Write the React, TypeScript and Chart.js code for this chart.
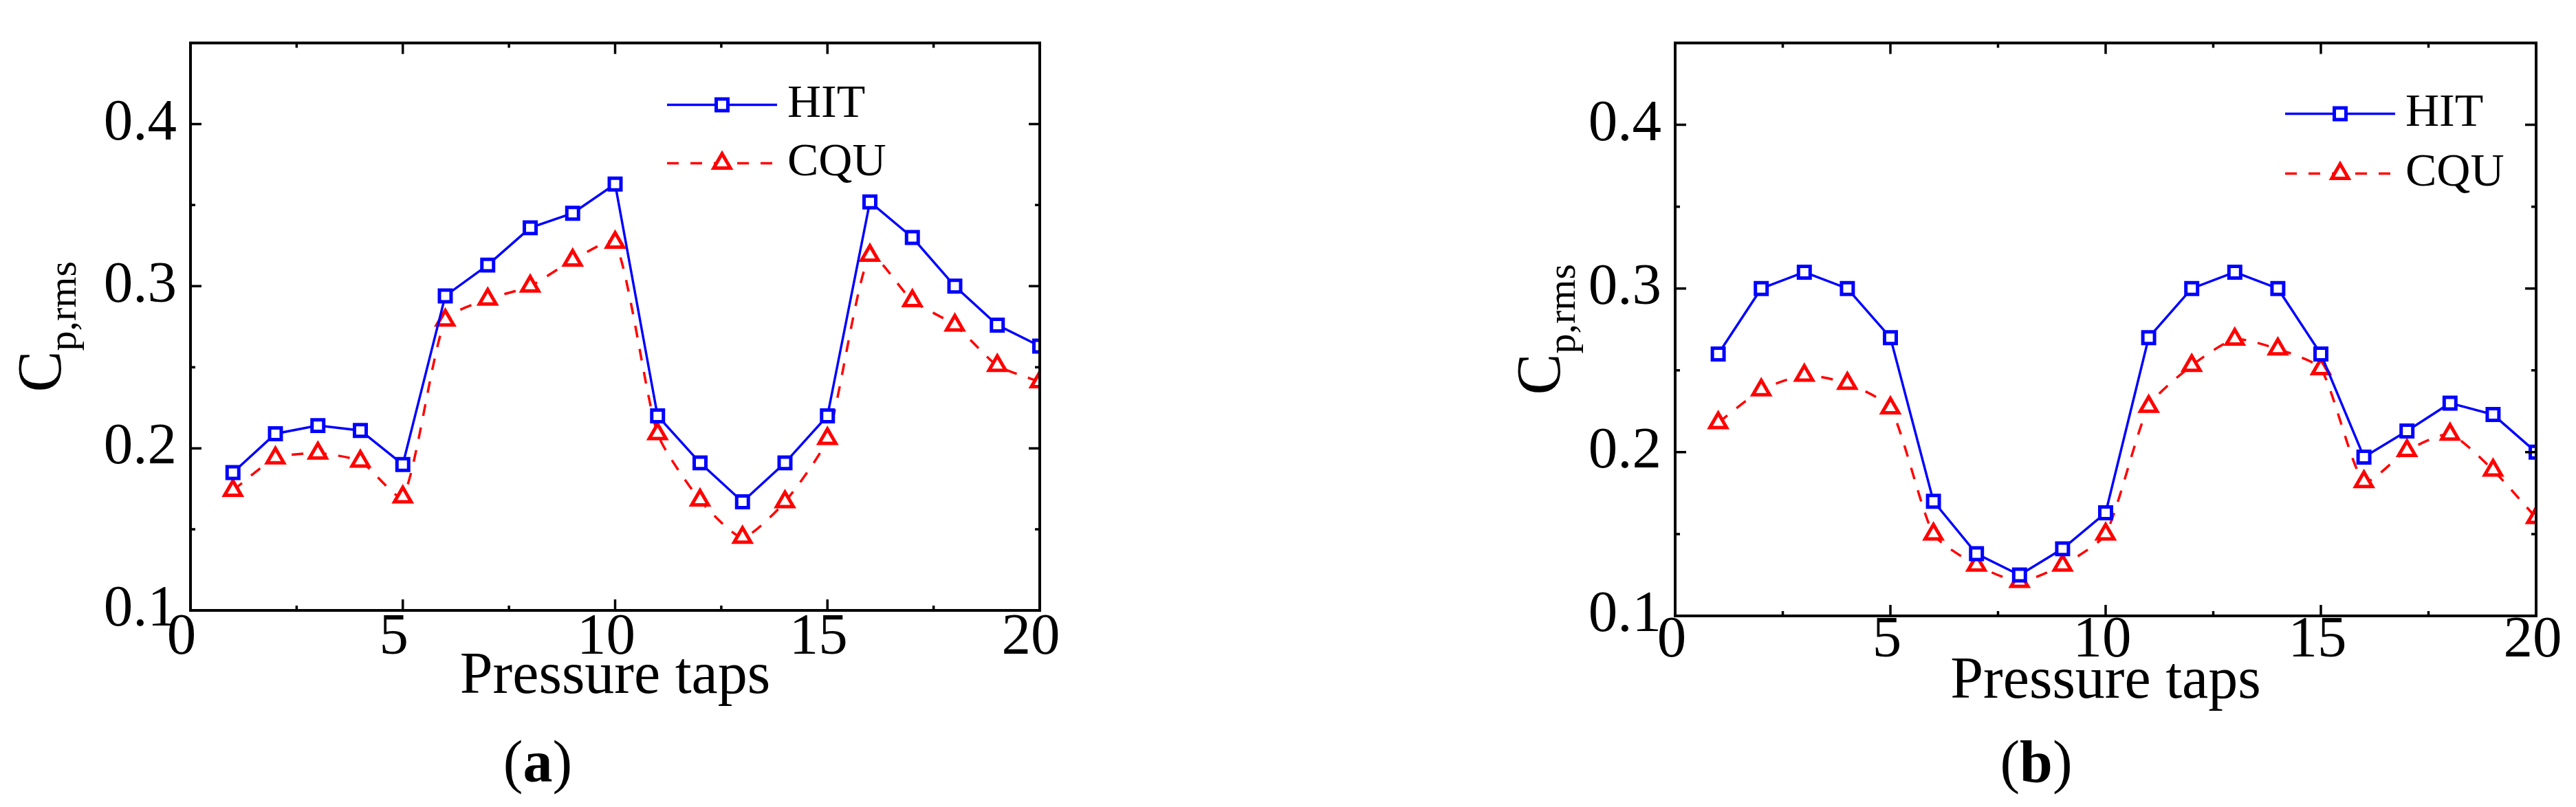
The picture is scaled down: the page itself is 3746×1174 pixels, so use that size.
import { useEffect, useRef } from "react";
import Chart from "chart.js/auto";
import { drawPoint } from "chart.js/helpers";

// data
const TAPS = [1, 2, 3, 4, 5, 6, 7, 8, 9, 10, 11, 12, 13, 14, 15, 16, 17, 18, 19, 20];

const HIT_A = [0.185, 0.209, 0.214, 0.211, 0.19, 0.294, 0.313, 0.336, 0.345, 0.363,
  0.22, 0.191, 0.167, 0.191, 0.22, 0.352, 0.33, 0.3, 0.276, 0.263];
const CQU_A = [0.174, 0.194, 0.197, 0.192, 0.17, 0.279, 0.292, 0.3, 0.316, 0.327,
  0.209, 0.168, 0.145, 0.167, 0.206, 0.319, 0.291, 0.276, 0.251, 0.241];

const HIT_B = [0.26, 0.3, 0.31, 0.3, 0.27, 0.17, 0.138, 0.125, 0.141, 0.163,
  0.27, 0.3, 0.31, 0.3, 0.26, 0.197, 0.213, 0.23, 0.223, 0.2];
const CQU_B = [0.218, 0.238, 0.247, 0.242, 0.227, 0.15, 0.131, 0.121, 0.131, 0.15,
  0.228, 0.253, 0.269, 0.263, 0.251, 0.182, 0.201, 0.211, 0.189, 0.16];

const SERIES_NAMES = ["HIT", "CQU"];
const X_TICKS = [0, 5, 10, 15, 20];
const X_MINOR = [2.5, 7.5, 12.5, 17.5];
const Y_TICKS = [0.1, 0.2, 0.3, 0.4];
const Y_MINOR = [0.15, 0.25, 0.35];
const X_TITLE = "Pressure taps";
const Y_TITLE = "C";
const Y_TITLE_SUB = "p,rms";

const SERIF = '"Liberation Serif", "Times New Roman", serif';
const BLUE = "#0000ff";
const RED = "#ff0000";

interface Layout {
  left: number; // canvas left on the page
  width: number;
  padTop: number;
  padRight: number;
  yAxisWidth: number;
  xAxisHeight: number;
  xLabelOffset: number;
  xLabelPad: number;
  yTitleGap: number;
  xTitleDy: number;
  legendX: number;
  legendY: number[];
}

const LAYOUT_A: Layout = {
  left: 0, width: 1873, padTop: 37, padRight: 361, yAxisWidth: 277, xAxisHeight: 286,
  xLabelOffset: -13, xLabelPad: -2, yTitleGap: 189, xTitleDy: 120,
  legendX: 693, legendY: [90, 175],
};

const LAYOUT_B: Layout = {
  left: 1873, width: 1873, padTop: 32, padRight: 58, yAxisWidth: 563, xAxisHeight: 278,
  xLabelOffset: -5, xLabelPad: -6, yTitleGap: 168, xTitleDy: 119,
  legendX: 887, legendY: [103, 190],
};

const makeDecor = (L: Layout) => ({
  id: "decor",
  afterDraw(chart: any) {
    const { ctx, chartArea: a, scales } = chart;
    const xs = scales.x;
    const ys = scales.y;
    ctx.save();

    // frame
    ctx.strokeStyle = "#000";
    ctx.lineWidth = 4;
    ctx.setLineDash([]);
    ctx.strokeRect(a.left, a.top, a.right - a.left, a.bottom - a.top);

    // inward ticks on all four sides
    ctx.lineWidth = 3.5;
    const xTick = (v: number, len: number) => {
      const px = xs.getPixelForValue(v);
      ctx.beginPath();
      ctx.moveTo(px, a.bottom);
      ctx.lineTo(px, a.bottom - len);
      ctx.moveTo(px, a.top);
      ctx.lineTo(px, a.top + len);
      ctx.stroke();
    };
    const yTick = (v: number, len: number) => {
      const py = ys.getPixelForValue(v);
      ctx.beginPath();
      ctx.moveTo(a.left, py);
      ctx.lineTo(a.left + len, py);
      ctx.moveTo(a.right, py);
      ctx.lineTo(a.right - len, py);
      ctx.stroke();
    };
    X_TICKS.forEach((v) => xTick(v, 16));
    X_MINOR.forEach((v) => xTick(v, 7));
    Y_TICKS.forEach((v) => yTick(v, 16));
    Y_MINOR.forEach((v) => yTick(v, 7));

    // x title
    ctx.fillStyle = "#000";
    ctx.font = `86px ${SERIF}`;
    ctx.textAlign = "center";
    ctx.textBaseline = "alphabetic";
    ctx.fillText(X_TITLE, (a.left + a.right) / 2, a.bottom + L.xTitleDy);

    // y title with subscript
    ctx.save();
    ctx.translate(a.left - L.yTitleGap, (a.top + a.bottom) / 2);
    ctx.rotate(-Math.PI / 2);
    ctx.textAlign = "left";
    ctx.font = `90px ${SERIF}`;
    const wMain = ctx.measureText(Y_TITLE).width;
    ctx.font = `58px ${SERIF}`;
    const wSub = ctx.measureText(Y_TITLE_SUB).width;
    const start = -(wMain + wSub) / 2;
    ctx.font = `90px ${SERIF}`;
    ctx.fillText(Y_TITLE, start, 0);
    ctx.font = `58px ${SERIF}`;
    ctx.fillText(Y_TITLE_SUB, start + wMain, 22);
    ctx.restore();

    // legend: line with marker in the middle
    chart.data.datasets.forEach((ds: any, i: number) => {
      const x0 = a.left + L.legendX;
      const y = a.top + L.legendY[i];
      ctx.strokeStyle = ds.borderColor;
      ctx.lineWidth = 3.5;
      ctx.setLineDash(ds.borderDash || []);
      ctx.beginPath();
      ctx.moveTo(x0, y);
      ctx.lineTo(x0 + 160, y);
      ctx.stroke();
      ctx.setLineDash([]);
      ctx.fillStyle = "#fff";
      ctx.lineWidth = ds.pointBorderWidth;
      drawPoint(ctx, {
        pointStyle: ds.pointStyle,
        radius: ds.pointRadius,
        rotation: 0,
        borderWidth: ds.pointBorderWidth,
      } as any, x0 + 80, y);
      ctx.fillStyle = "#000";
      ctx.font = `68px ${SERIF}`;
      ctx.textAlign = "left";
      ctx.textBaseline = "middle";
      ctx.fillText(ds.label, x0 + 175, y);
    });

    ctx.restore();
  },
});

interface PanelProps {
  hit: number[];
  cqu: number[];
  layout: Layout;
}

const Panel: React.FC<PanelProps> = ({ hit, cqu, layout }) => {
  const chartRef = useRef<HTMLCanvasElement | null>(null);
  const chartInstance = useRef<Chart | null>(null);

  useEffect(() => {
    if (!chartRef.current) return;
    if (chartInstance.current) chartInstance.current.destroy();
    const ctx = chartRef.current.getContext("2d");
    if (!ctx) return;

    const tickFont = { family: SERIF, size: 85, lineHeight: 1 };

    chartInstance.current = new Chart(ctx, {
      type: "line",
      data: {
        datasets: [
          {
            label: SERIES_NAMES[0],
            data: TAPS.map((t, i) => ({ x: t, y: hit[i] })),
            borderColor: BLUE,
            backgroundColor: BLUE,
            borderWidth: 3.5,
            pointStyle: "rect",
            pointRadius: 12,
            pointBorderWidth: 5,
            pointBackgroundColor: "#fff",
            pointBorderColor: BLUE,
            tension: 0,
          },
          {
            label: SERIES_NAMES[1],
            data: TAPS.map((t, i) => ({ x: t, y: cqu[i] })),
            borderColor: RED,
            backgroundColor: RED,
            borderWidth: 3.5,
            borderDash: [17, 17],
            pointStyle: "triangle",
            pointRadius: 14,
            pointBorderWidth: 5,
            pointBackgroundColor: "#fff",
            pointBorderColor: RED,
            tension: 0.2,
          },
        ],
      },
      options: {
        animation: false,
        responsive: false,
        maintainAspectRatio: false,
        layout: {
          padding: { top: layout.padTop, right: layout.padRight, left: 0, bottom: 0 },
        },
        plugins: {
          legend: { display: false },
          tooltip: { enabled: false },
        },
        scales: {
          x: {
            type: "linear",
            min: 0,
            max: 20,
            afterBuildTicks: (s: any) => {
              s.ticks = X_TICKS.map((v) => ({ value: v }));
            },
            afterFit: (s: any) => {
              s.height = layout.xAxisHeight;
            },
            grid: { display: false, drawTicks: false },
            border: { display: false },
            ticks: {
              font: tickFont,
              color: "#000",
              padding: layout.xLabelPad,
              labelOffset: layout.xLabelOffset,
              maxRotation: 0,
              autoSkip: false,
              callback: (v: any) => String(v),
            },
          },
          y: {
            type: "linear",
            min: 0.1,
            max: 0.45,
            afterBuildTicks: (s: any) => {
              s.ticks = Y_TICKS.map((v) => ({ value: v }));
            },
            afterFit: (s: any) => {
              s.width = layout.yAxisWidth;
            },
            grid: { display: false, drawTicks: false },
            border: { display: false },
            ticks: {
              font: tickFont,
              color: "#000",
              padding: 20,
              autoSkip: false,
              callback: (v: any) => Number(v).toFixed(1),
            },
          },
        },
      } as any,
      plugins: [makeDecor(layout)],
    });

    return () => {
      if (chartInstance.current) {
        chartInstance.current.destroy();
        chartInstance.current = null;
      }
    };
  }, [hit, cqu, layout]);

  return (
    <canvas
      ref={chartRef}
      width={layout.width}
      height={1174}
      style={{ position: "absolute", left: layout.left, top: 0, width: layout.width, height: 1174 }}
    />
  );
};

const captionStyle = (cx: number): React.CSSProperties => ({
  position: "absolute",
  left: cx - 150,
  width: 300,
  top: 1065,
  textAlign: "center",
  fontFamily: SERIF,
  fontSize: 86,
  lineHeight: "86px",
  color: "#000",
});

export default function App() {
  return (
    <div
      style={{
        position: "fixed",
        left: 0,
        top: 0,
        width: 3746,
        height: 1174,
        background: "#fff",
        overflow: "hidden",
      }}
    >
      <Panel hit={HIT_A} cqu={CQU_A} layout={LAYOUT_A} />
      <Panel hit={HIT_B} cqu={CQU_B} layout={LAYOUT_B} />
      <div style={captionStyle(782)}>
        (<b>a</b>)
      </div>
      <div style={captionStyle(2961)}>
        (<b>b</b>)
      </div>
    </div>
  );
}
